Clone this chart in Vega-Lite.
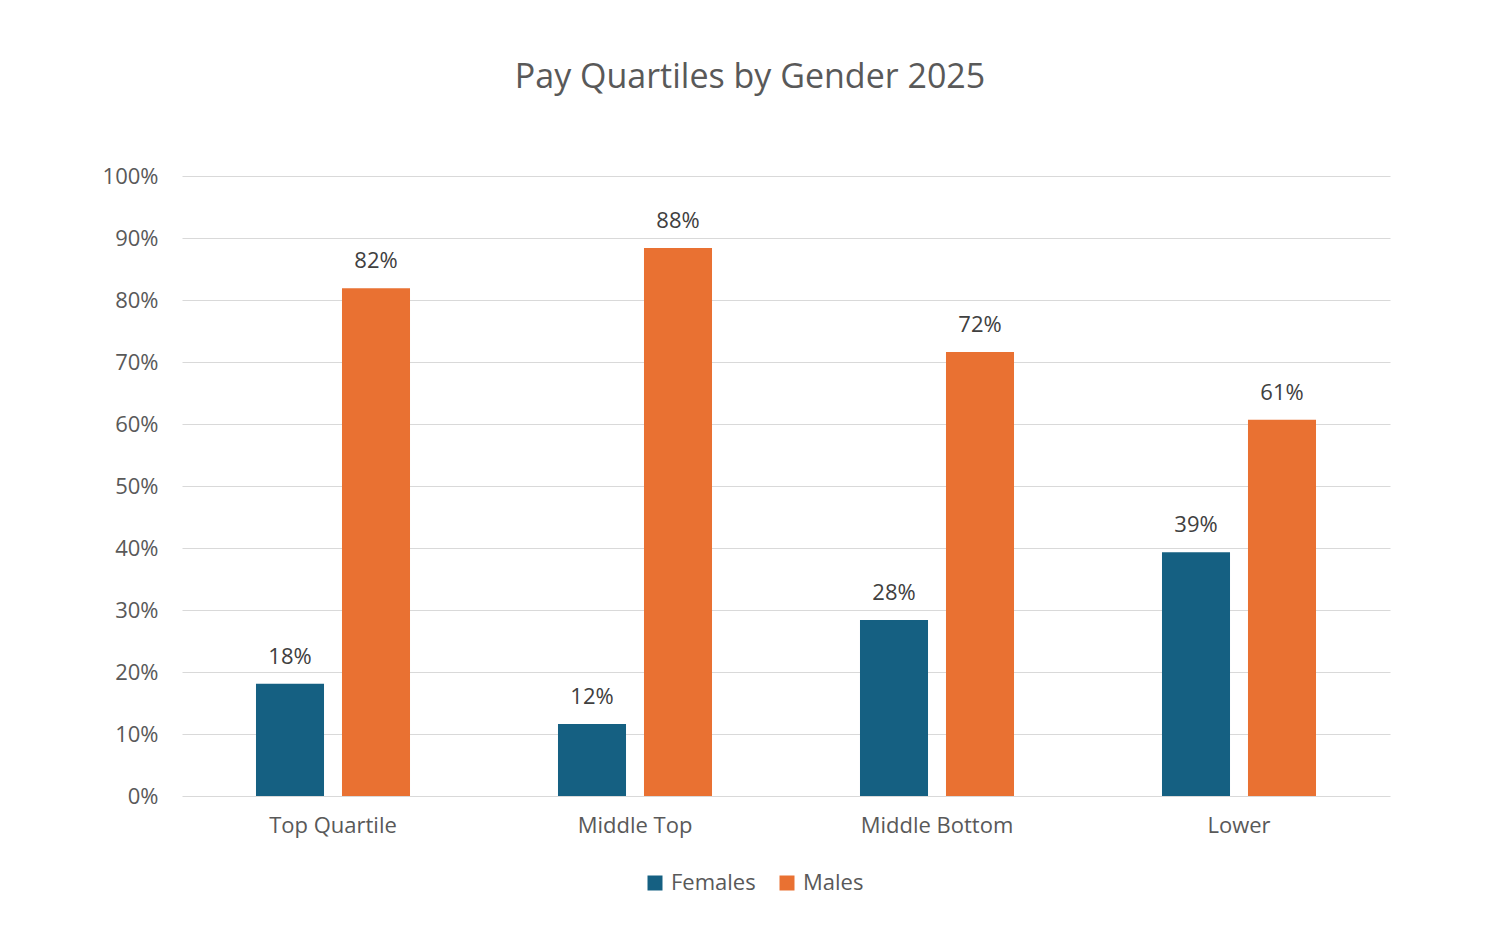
{
  "$schema": "https://vega.github.io/schema/vega-lite/v6.json",
  "width": 1208,
  "height": 620,
  "autosize": {"type": "none"},
  "padding": {"left": 182, "top": 176, "right": 110, "bottom": 154},
  "background": "white",
  "title": {
    "text": "Pay Quartiles by Gender 2025",
    "fontSize": 34,
    "fontWeight": "normal",
    "font": "Open Sans",
    "color": "#595959",
    "anchor": "middle",
    "dx": -36,
    "offset": 70
  },
  "data": {
    "values": [
      {"quartile": "Top Quartile", "gender": "Females", "share": 0.181},
      {"quartile": "Top Quartile", "gender": "Males", "share": 0.819},
      {"quartile": "Middle Top", "gender": "Females", "share": 0.116},
      {"quartile": "Middle Top", "gender": "Males", "share": 0.884},
      {"quartile": "Middle Bottom", "gender": "Females", "share": 0.284},
      {"quartile": "Middle Bottom", "gender": "Males", "share": 0.716},
      {"quartile": "Lower", "gender": "Females", "share": 0.393},
      {"quartile": "Lower", "gender": "Males", "share": 0.607}
    ]
  },
  "encoding": {
    "x": {
      "field": "quartile",
      "type": "nominal",
      "sort": ["Top Quartile", "Middle Top", "Middle Bottom", "Lower"],
      "scale": {"paddingInner": 0.49, "paddingOuter": 0.245},
      "axis": {
        "title": null,
        "labelAngle": 0,
        "domain": false,
        "ticks": false,
        "tickSize": 0,
        "labelPadding": 19,
        "labelFontSize": 22,
        "labelFont": "Open Sans",
        "labelColor": "#595959"
      }
    },
    "xOffset": {
      "field": "gender",
      "type": "nominal",
      "scale": {"paddingInner": 0.209, "paddingOuter": 0}
    },
    "y": {
      "field": "share",
      "type": "quantitative",
      "scale": {"domain": [0, 1]},
      "axis": {
        "title": null,
        "format": ".0%",
        "values": [0, 0.1, 0.2, 0.3, 0.4, 0.5, 0.6, 0.7, 0.8, 0.9, 1],
        "labelOverlap": false,
        "domain": false,
        "ticks": false,
        "tickSize": 0,
        "labelPadding": 24,
        "labelFontSize": 22,
        "labelFont": "Open Sans",
        "labelColor": "#595959",
        "gridColor": "#d9d9d9",
        "gridWidth": 1
      }
    }
  },
  "layer": [
    {
      "mark": {"type": "bar"},
      "encoding": {
        "color": {
          "field": "gender",
          "type": "nominal",
          "scale": {"domain": ["Females", "Males"], "range": ["#156082", "#e97132"]},
          "legend": {
            "title": null,
            "orient": "none",
            "direction": "horizontal",
            "legendX": 462,
            "legendY": 696,
            "symbolType": "square",
            "symbolSize": 225,
            "symbolStrokeWidth": 0,
            "labelFontSize": 22,
            "labelFont": "Open Sans",
            "labelColor": "#595959",
            "labelOffset": 5,
            "columnPadding": 20
          }
        }
      }
    },
    {
      "mark": {
        "type": "text",
        "baseline": "bottom",
        "dy": -15,
        "fontSize": 22,
        "font": "Open Sans",
        "color": "#404040"
      },
      "encoding": {
        "text": {"field": "share", "type": "quantitative", "format": ".0%"}
      }
    }
  ],
  "config": {
    "view": {"stroke": null}
  }
}
